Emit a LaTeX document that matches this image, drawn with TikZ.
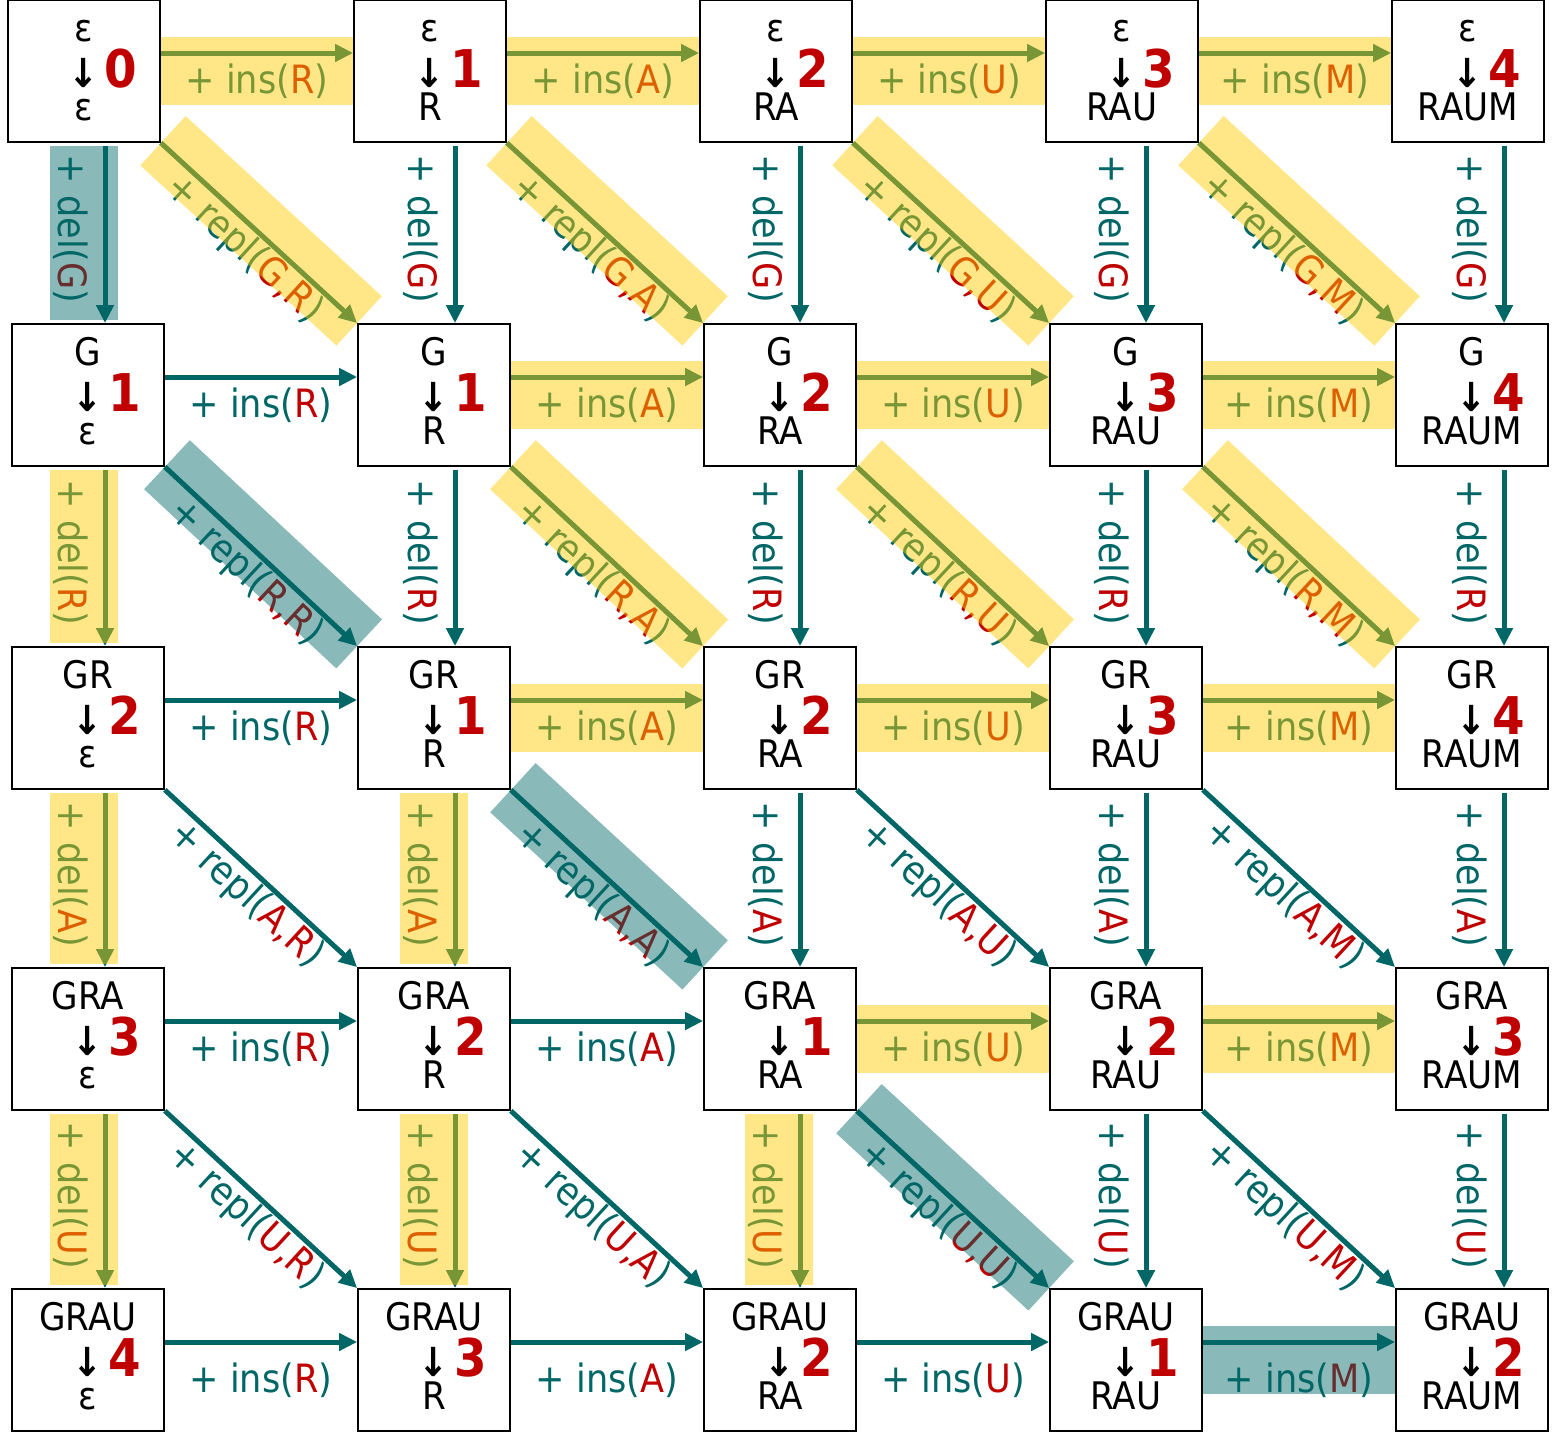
\documentclass[tikz,border=0pt]{standalone}
\usepackage{fontspec}
\setmainfont{DejaVu Sans Condensed}
\usetikzlibrary{arrows.meta,calc}
\definecolor{myteal}{HTML}{006666}
\definecolor{myred}{HTML}{C00000}
\definecolor{hlyellow}{HTML}{FFCC00}
% box: name, x, y, top, number, bottom
\newcommand{\mybox}[6]{%
  \node[box] (#1) at (#2,#3) {};
  \node[btxt, anchor=base] (#1t) at ([yshift=30pt]#1.center) {#4};
  \node[atxt, anchor=base] (#1a) at ([yshift=-16pt]#1.center) {↓};
  \node[ntxt, anchor=base west] (#1n) at ([xshift=5pt]#1a.base east) {#5};
  \node[btxt, anchor=base] (#1b) at ([yshift=-49pt]#1.center) {#6};
}
% horizontal edge: from, to, letter, label offset
\newcommand{\myhe}[4]{%
  \draw[edge] ($(#1.east)+(0,-18)$) -- ($(#2.west)+(0,-18)$)
    node[elabel, midway, anchor=base, yshift=-#4pt] {+ ins(\textcolor{myred}{#3})};
}
% vertical edge: from, to, letter, x offset
\newcommand{\myve}[4]{%
  \coordinate (#1#2e) at ([xshift=#4pt]#2.north);
  \draw[edge, shorten <=3pt] (#1.south -| #1#2e) -- (#1#2e)
    node[elabel, midway, xshift=-34pt, yshift=4pt, rotate=-90] {+ del(\textcolor{myred}{#3})};
}
% diagonal edge: from, to, letters
\newcommand{\myde}[3]{%
  \draw[edge] (#1.south east) -- (#2.north west)
    node[elabel, midway, sloped, anchor=north] {+ repl(\textcolor{myred}{#3})};
}
% highlights
\newcommand{\myhh}[3]{\fill[#1] ($(#2.east)+(0,-34)$) rectangle ($(#3.west)+(0,34)$);}
\newcommand{\myvh}[4]{\fill[#1] ($(#2.south -| #3.north)+(#4-55,3)$) rectangle ($(#3.north)+(#4+13,-3)$);}
\newcommand{\mydh}[3]{\draw[#1, line width=67pt] ($(#2.south east)!3pt!90:(#3.north west)$) -- ($(#3.north west)!3pt!-90:(#2.south east)$);}
\begin{document}
\begin{tikzpicture}[x=1pt,y=-1pt,
  box/.style={draw=black,line width=1.8pt,fill=white,minimum width=152pt,minimum height=142pt,inner sep=0pt},
  btxt/.style={inner sep=0pt,font=\fontsize{38pt}{44pt}\selectfont},
  atxt/.style={inner sep=0pt,font=\fontsize{40pt}{44pt}\selectfont\bfseries},
  ntxt/.style={inner sep=0pt,text=myred,font=\fontsize{52pt}{60pt}\selectfont\bfseries},
  edge/.style={draw=myteal,line width=5pt,-{Triangle[length=18pt,width=17pt]}},
  elabel/.style={text=myteal,font=\fontsize{39pt}{44pt}\selectfont,inner sep=1pt},
  hly/.style={hlyellow,opacity=0.47},
  hlt/.style={myteal,opacity=0.46}]
\useasboundingbox (0,0) rectangle (1556,1440);

% boxes
\mybox{b00}{84}{71}{ε}{0}{ε}
\mybox{b01}{430}{71}{ε}{1}{R}
\mybox{b02}{776}{71}{ε}{2}{RA}
\mybox{b03}{1122}{71}{ε}{3}{RAU}
\mybox{b04}{1468}{71}{ε}{4}{RAUM}
\mybox{b10}{88}{395}{G}{1}{ε}
\mybox{b11}{434}{395}{G}{1}{R}
\mybox{b12}{780}{395}{G}{2}{RA}
\mybox{b13}{1126}{395}{G}{3}{RAU}
\mybox{b14}{1472}{395}{G}{4}{RAUM}
\mybox{b20}{88}{718}{GR}{2}{ε}
\mybox{b21}{434}{718}{GR}{1}{R}
\mybox{b22}{780}{718}{GR}{2}{RA}
\mybox{b23}{1126}{718}{GR}{3}{RAU}
\mybox{b24}{1472}{718}{GR}{4}{RAUM}
\mybox{b30}{88}{1039}{GRA}{3}{ε}
\mybox{b31}{434}{1039}{GRA}{2}{R}
\mybox{b32}{780}{1039}{GRA}{1}{RA}
\mybox{b33}{1126}{1039}{GRA}{2}{RAU}
\mybox{b34}{1472}{1039}{GRA}{3}{RAUM}
\mybox{b40}{88}{1360}{GRAU}{4}{ε}
\mybox{b41}{434}{1360}{GRAU}{3}{R}
\mybox{b42}{780}{1360}{GRAU}{2}{RA}
\mybox{b43}{1126}{1360}{GRAU}{1}{RAU}
\mybox{b44}{1472}{1360}{GRAU}{2}{RAUM}

% horizontal edges
\myhe{b00}{b01}{R}{40}\myhe{b01}{b02}{A}{40}\myhe{b02}{b03}{U}{40}\myhe{b03}{b04}{M}{40}
\myhe{b10}{b11}{R}{40}\myhe{b11}{b12}{A}{40}\myhe{b12}{b13}{U}{40}\myhe{b13}{b14}{M}{40}
\myhe{b20}{b21}{R}{40}\myhe{b21}{b22}{A}{40}\myhe{b22}{b23}{U}{40}\myhe{b23}{b24}{M}{40}
\myhe{b30}{b31}{R}{40}\myhe{b31}{b32}{A}{40}\myhe{b32}{b33}{U}{40}\myhe{b33}{b34}{M}{40}
\myhe{b40}{b41}{R}{50}\myhe{b41}{b42}{A}{50}\myhe{b42}{b43}{U}{50}\myhe{b43}{b44}{M}{50}

% vertical edges
\myve{b00}{b10}{G}{17}\myve{b01}{b11}{G}{21}\myve{b02}{b12}{G}{20}\myve{b03}{b13}{G}{20}\myve{b04}{b14}{G}{32}
\myve{b10}{b20}{R}{17}\myve{b11}{b21}{R}{21}\myve{b12}{b22}{R}{20}\myve{b13}{b23}{R}{20}\myve{b14}{b24}{R}{32}
\myve{b20}{b30}{A}{17}\myve{b21}{b31}{A}{21}\myve{b22}{b32}{A}{20}\myve{b23}{b33}{A}{20}\myve{b24}{b34}{A}{32}
\myve{b30}{b40}{U}{17}\myve{b31}{b41}{U}{21}\myve{b32}{b42}{U}{20}\myve{b33}{b43}{U}{20}\myve{b34}{b44}{U}{32}

% diagonal edges
\myde{b00}{b11}{G,R}\myde{b01}{b12}{G,A}\myde{b02}{b13}{G,U}\myde{b03}{b14}{G,M}
\myde{b10}{b21}{R,R}\myde{b11}{b22}{R,A}\myde{b12}{b23}{R,U}\myde{b13}{b24}{R,M}
\myde{b20}{b31}{A,R}\myde{b21}{b32}{A,A}\myde{b22}{b33}{A,U}\myde{b23}{b34}{A,M}
\myde{b30}{b41}{U,R}\myde{b31}{b42}{U,A}\myde{b32}{b43}{U,U}\myde{b33}{b44}{U,M}

% highlights
\myhh{hly}{b00}{b01}\myhh{hly}{b01}{b02}\myhh{hly}{b02}{b03}\myhh{hly}{b03}{b04}
\myhh{hly}{b11}{b12}\myhh{hly}{b12}{b13}\myhh{hly}{b13}{b14}
\myhh{hly}{b21}{b22}\myhh{hly}{b22}{b23}\myhh{hly}{b23}{b24}
\myhh{hly}{b32}{b33}\myhh{hly}{b33}{b34}
\myhh{hlt}{b43}{b44}
\myvh{hlt}{b00}{b10}{17}
\myvh{hly}{b10}{b20}{17}\myvh{hly}{b20}{b30}{17}\myvh{hly}{b30}{b40}{17}
\myvh{hly}{b21}{b31}{21}\myvh{hly}{b31}{b41}{21}
\myvh{hly}{b32}{b42}{20}
\mydh{hly}{b00}{b11}\mydh{hly}{b01}{b12}\mydh{hly}{b02}{b13}\mydh{hly}{b03}{b14}
\mydh{hly}{b11}{b22}\mydh{hly}{b12}{b23}\mydh{hly}{b13}{b24}
\mydh{hlt}{b10}{b21}\mydh{hlt}{b21}{b32}\mydh{hlt}{b32}{b43}
\end{tikzpicture}
\end{document}
